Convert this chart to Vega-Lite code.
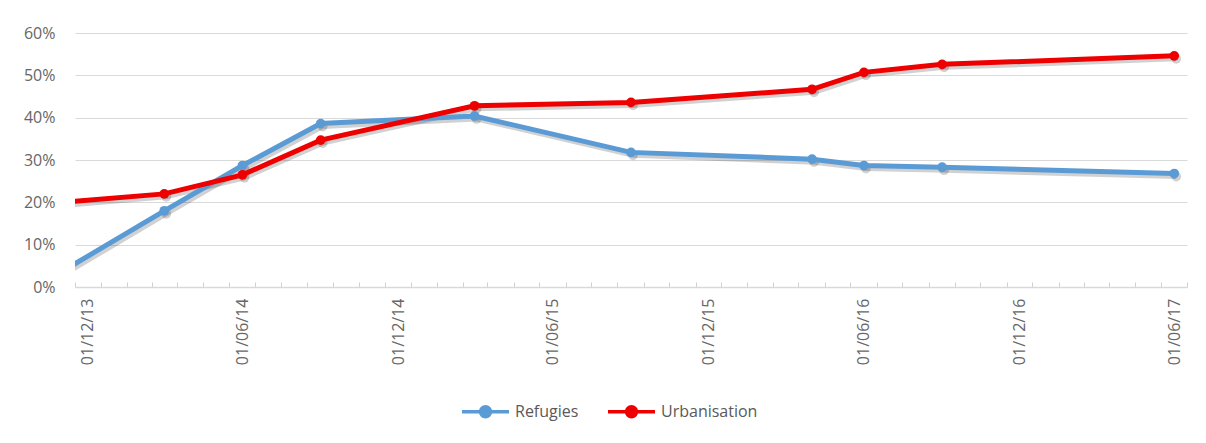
{
  "$schema": "https://vega.github.io/schema/vega-lite/v6.json",
  "width": 1112,
  "height": 254,
  "autosize": "none",
  "padding": {"left": 75, "top": 33, "right": 19, "bottom": 156},
  "background": "white",
  "config": {
    "view": {"stroke": null},
    "font": "Open Sans",
    "axis": {"labelFont": "Open Sans", "labelColor": "#666666", "labelFontSize": 16}
  },
  "data": {
    "values": [
      {"date": "2013-11-01T00:00:00", "series": "Refugies", "value": 0.037},
      {"date": "2014-03-01T00:00:00", "series": "Refugies", "value": 0.180},
      {"date": "2014-06-01T00:00:00", "series": "Refugies", "value": 0.287},
      {"date": "2014-09-01T00:00:00", "series": "Refugies", "value": 0.386},
      {"date": "2015-03-01T00:00:00", "series": "Refugies", "value": 0.404},
      {"date": "2015-09-01T00:00:00", "series": "Refugies", "value": 0.318},
      {"date": "2016-04-01T00:00:00", "series": "Refugies", "value": 0.302},
      {"date": "2016-06-01T00:00:00", "series": "Refugies", "value": 0.287},
      {"date": "2016-09-01T00:00:00", "series": "Refugies", "value": 0.283},
      {"date": "2017-06-01T00:00:00", "series": "Refugies", "value": 0.268},
      {"date": "2013-11-01T00:00:00", "series": "Urbanisation", "value": 0.200},
      {"date": "2014-03-01T00:00:00", "series": "Urbanisation", "value": 0.220},
      {"date": "2014-06-01T00:00:00", "series": "Urbanisation", "value": 0.265},
      {"date": "2014-09-01T00:00:00", "series": "Urbanisation", "value": 0.347},
      {"date": "2015-03-01T00:00:00", "series": "Urbanisation", "value": 0.428},
      {"date": "2015-09-01T00:00:00", "series": "Urbanisation", "value": 0.436},
      {"date": "2016-04-01T00:00:00", "series": "Urbanisation", "value": 0.467},
      {"date": "2016-06-01T00:00:00", "series": "Urbanisation", "value": 0.507},
      {"date": "2016-09-01T00:00:00", "series": "Urbanisation", "value": 0.526},
      {"date": "2017-06-01T00:00:00", "series": "Urbanisation", "value": 0.546}
    ]
  },
  "encoding": {
    "x": {
      "field": "date",
      "type": "temporal",
      "title": null,
      "scale": {"domain": [{"year": 2013, "month": 11, "date": 16}, {"year": 2017, "month": 6, "date": 16}]},
      "axis": {
        "values": [
          {"year": 2013, "month": 12, "date": 1}, {"year": 2014, "month": 6, "date": 1},
          {"year": 2014, "month": 12, "date": 1}, {"year": 2015, "month": 6, "date": 1},
          {"year": 2015, "month": 12, "date": 1}, {"year": 2016, "month": 6, "date": 1},
          {"year": 2016, "month": 12, "date": 1}, {"year": 2017, "month": 6, "date": 1},
          {"year": 2013, "month": 11, "date": 16}, {"year": 2013, "month": 12, "date": 16},
          {"year": 2014, "month": 1, "date": 16}, {"year": 2014, "month": 2, "date": 15},
          {"year": 2014, "month": 3, "date": 16}, {"year": 2014, "month": 4, "date": 16},
          {"year": 2014, "month": 5, "date": 16}, {"year": 2014, "month": 6, "date": 16},
          {"year": 2014, "month": 7, "date": 16}, {"year": 2014, "month": 8, "date": 16},
          {"year": 2014, "month": 9, "date": 16}, {"year": 2014, "month": 10, "date": 16},
          {"year": 2014, "month": 11, "date": 16}, {"year": 2014, "month": 12, "date": 16},
          {"year": 2015, "month": 1, "date": 16}, {"year": 2015, "month": 2, "date": 15},
          {"year": 2015, "month": 3, "date": 16}, {"year": 2015, "month": 4, "date": 16},
          {"year": 2015, "month": 5, "date": 16}, {"year": 2015, "month": 6, "date": 16},
          {"year": 2015, "month": 7, "date": 16}, {"year": 2015, "month": 8, "date": 16},
          {"year": 2015, "month": 9, "date": 16}, {"year": 2015, "month": 10, "date": 16},
          {"year": 2015, "month": 11, "date": 16}, {"year": 2015, "month": 12, "date": 16},
          {"year": 2016, "month": 1, "date": 16}, {"year": 2016, "month": 2, "date": 15},
          {"year": 2016, "month": 3, "date": 16}, {"year": 2016, "month": 4, "date": 16},
          {"year": 2016, "month": 5, "date": 16}, {"year": 2016, "month": 6, "date": 16},
          {"year": 2016, "month": 7, "date": 16}, {"year": 2016, "month": 8, "date": 16},
          {"year": 2016, "month": 9, "date": 16}, {"year": 2016, "month": 10, "date": 16},
          {"year": 2016, "month": 11, "date": 16}, {"year": 2016, "month": 12, "date": 16},
          {"year": 2017, "month": 1, "date": 16}, {"year": 2017, "month": 2, "date": 15},
          {"year": 2017, "month": 3, "date": 16}, {"year": 2017, "month": 4, "date": 16},
          {"year": 2017, "month": 5, "date": 16}, {"year": 2017, "month": 6, "date": 16}
        ],
        "labelExpr": "date(datum.value) == 1 ? timeFormat(datum.value, '%d/%m/%y') : ''",
        "labelAngle": 270,
        "labelOverlap": false,
        "labelBound": false,
        "labelFlush": false,
        "labelPadding": 16,
        "grid": false,
        "domainColor": "#D9D9D9",
        "domainWidth": 1.5,
        "tickColor": "#D0D0D0",
        "tickSize": -5,
        "tickOpacity": {"condition": {"test": "date(datum.value) == 1", "value": 0}, "value": 1}
      }
    },
    "y": {
      "field": "value",
      "type": "quantitative",
      "title": null,
      "scale": {"domain": [0, 0.6]},
      "axis": {
        "values": [0, 0.1, 0.2, 0.3, 0.4, 0.5, 0.6],
        "format": ".0%",
        "domain": false,
        "ticks": false,
        "tickSize": 0,
        "labelPadding": 20,
        "gridColor": "#D9D9D9",
        "gridWidth": 1.2
      }
    }
  },
  "layer": [
    {
      "mark": {"type": "line", "clip": true, "strokeWidth": 5, "color": "#000000", "opacity": 0.18, "xOffset": 2, "yOffset": 3},
      "encoding": {"detail": {"field": "series"}}
    },
    {
      "mark": {"type": "point", "clip": true, "filled": true, "size": 95, "color": "#000000", "opacity": 0.18, "xOffset": 2, "yOffset": 3},
      "encoding": {"detail": {"field": "series"}}
    },
    {
      "mark": {"type": "line", "clip": true, "strokeWidth": 5},
      "encoding": {
        "color": {
          "field": "series",
          "type": "nominal",
          "scale": {"domain": ["Refugies", "Urbanisation"], "range": ["#5B9BD5", "#EE0000"]},
          "legend": {
            "orient": "none",
            "direction": "horizontal",
            "legendX": 385,
            "legendY": 353,
            "title": null,
            "symbolType": "M-1,0L1,0M-0.213,0A0.213,0.213,0,1,1,0.213,0A0.213,0.213,0,1,1,-0.213,0Z",
            "symbolSize": 2209,
            "symbolStrokeWidth": 3.5,
            "labelFont": "Open Sans",
            "labelFontSize": 16,
            "labelColor": "#595959",
            "labelOffset": 4,
            "columnPadding": 22,
            "encode": {
              "symbols": {
                "update": {
                  "fill": {"scale": "color", "field": "value"},
                  "stroke": {"scale": "color", "field": "value"},
                  "opacity": {"value": 1}
                }
              }
            }
          }
        }
      }
    },
    {
      "mark": {"type": "point", "clip": true, "filled": true, "size": 95, "opacity": 1},
      "encoding": {"color": {"field": "series", "type": "nominal"}}
    }
  ]
}
